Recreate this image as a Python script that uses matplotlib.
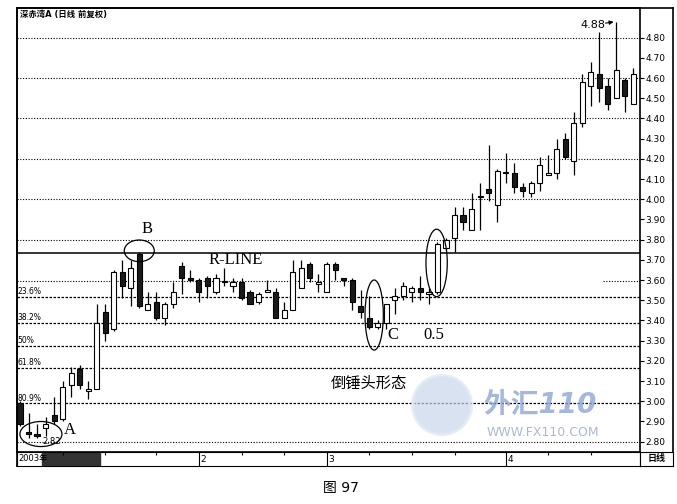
import numpy as np
import matplotlib.pyplot as plt
from matplotlib.patches import Ellipse, Rectangle

plt.rcParams['font.family'] = ['DejaVu Sans', 'Noto Sans CJK SC']

# daily candles (index 0 = first bar on the left)
opens = [2.99, 2.85, 2.84, 2.87, 2.93, 2.91, 3.08, 3.16, 3.05, 3.06,
         3.44, 3.36, 3.64, 3.56, 3.73, 3.45, 3.49, 3.41, 3.48, 3.67,
         3.61, 3.60, 3.61, 3.54, 3.59, 3.57, 3.59, 3.54, 3.49, 3.54,
         3.54, 3.41, 3.45, 3.56, 3.68, 3.58, 3.54, 3.68, 3.61, 3.60,
         3.47, 3.41, 3.37, 3.39, 3.50, 3.52, 3.54, 3.56, 3.53, 3.54,
         3.76, 3.81, 3.92, 3.85, 4.01, 4.05, 3.97, 4.13, 4.13, 4.06,
         4.03, 4.08, 4.12, 4.13, 4.30, 4.19, 4.38, 4.56, 4.62, 4.56,
         4.50, 4.59, 4.47]
highs = [3.00, 2.94, 2.89, 2.92, 3.02, 3.10, 3.17, 3.18, 3.10, 3.48,
         3.48, 3.65, 3.70, 3.70, 3.74, 3.54, 3.54, 3.49, 3.59, 3.69,
         3.65, 3.61, 3.62, 3.63, 3.66, 3.61, 3.61, 3.55, 3.54, 3.60,
         3.56, 3.49, 3.70, 3.70, 3.69, 3.63, 3.69, 3.69, 3.61, 3.61,
         3.55, 3.52, 3.40, 3.48, 3.56, 3.59, 3.57, 3.62, 3.56, 3.79,
         3.81, 3.96, 3.96, 4.03, 4.08, 4.27, 4.15, 4.23, 4.18, 4.08,
         4.09, 4.21, 4.22, 4.30, 4.33, 4.43, 4.62, 4.68, 4.83, 4.60,
         4.88, 4.60, 4.65]
lows = [2.88, 2.82, 2.82, 2.83, 2.89, 2.90, 3.02, 3.06, 3.01, 3.06,
        3.30, 3.35, 3.51, 3.47, 3.46, 3.45, 3.40, 3.38, 3.46, 3.53,
        3.59, 3.49, 3.51, 3.53, 3.57, 3.54, 3.50, 3.48, 3.48, 3.54,
        3.41, 3.41, 3.45, 3.56, 3.59, 3.54, 3.54, 3.60, 3.57, 3.45,
        3.41, 3.36, 3.36, 3.36, 3.43, 3.50, 3.49, 3.50, 3.48, 3.53,
        3.75, 3.74, 3.85, 3.85, 3.85, 3.99, 3.89, 4.08, 4.03, 4.01,
        4.01, 4.04, 4.12, 4.10, 4.20, 4.12, 4.36, 4.46, 4.48, 4.44,
        4.50, 4.43, 4.47]
closes = [2.89, 2.84, 2.83, 2.89, 2.90, 3.07, 3.14, 3.08, 3.06, 3.39,
          3.34, 3.64, 3.57, 3.66, 3.47, 3.48, 3.41, 3.48, 3.54, 3.61,
          3.60, 3.54, 3.57, 3.61, 3.59, 3.59, 3.51, 3.48, 3.53, 3.55,
          3.41, 3.45, 3.64, 3.66, 3.61, 3.59, 3.68, 3.65, 3.60, 3.49,
          3.44, 3.37, 3.39, 3.48, 3.52, 3.57, 3.56, 3.54, 3.54, 3.78,
          3.80, 3.92, 3.89, 3.95, 4.01, 4.03, 4.14, 4.13, 4.06, 4.04,
          4.08, 4.17, 4.13, 4.25, 4.21, 4.38, 4.58, 4.63, 4.55, 4.47,
          4.64, 4.51, 4.62]

price_ticks = [2.8, 2.9, 3.0, 3.1, 3.2, 3.3, 3.4, 3.5, 3.6, 3.7, 3.8,
               3.9, 4.0, 4.1, 4.2, 4.3, 4.4, 4.5, 4.6, 4.7, 4.8]
grid_levels = [4.80, 4.60, 4.40, 4.20, 4.00, 3.80, 2.80]
fib_levels = [3.518, 3.389, 3.274, 3.166, 2.99]
fib_labels = ['23.6%', '38.2%', '50%', '61.8%', '80.9%']
r_line = 3.736

month_starts = [21, 36, 57]
month_labels = ['2', '3', '4']
week_ticks = [5, 10, 16, 26, 31, 41, 46, 51, 62, 67]

W, H = 677, 504


def fx(px):
    return px / W


def fy(py):
    return 1 - py / H


fig = plt.figure(figsize=(W / 100, H / 100), dpi=100)

# outer frame incl. price strip
frame = fig.add_axes([fx(17), fy(466), fx(673) - fx(17), fy(8) - fy(466)])
frame.set_xticks([])
frame.set_yticks([])
for s in frame.spines.values():
    s.set_linewidth(1.2)

ax = fig.add_axes([fx(17), fy(452), fx(640) - fx(17), fy(8) - fy(452)])
ax.set_facecolor('none')
ax.set_xlim(-0.35, 72.77)
ax.set_ylim(2.749, 4.947)
for s in ax.spines.values():
    s.set_linewidth(1.2)

# grid / fibonacci / resistance lines
for lv in grid_levels:
    ax.axhline(lv, color='black', lw=0.8, ls=(0, (1, 1.5)), zorder=1)
ax.hlines(3.597, -0.35, 39.3, color='black', lw=0.8, ls=(0, (1, 1.5)), zorder=1)
ax.hlines(3.597, 68.4, 72.77, color='black', lw=0.8, ls=(0, (1, 1.5)), zorder=1)
for lv, lab in zip(fib_levels, fib_labels):
    ax.axhline(lv, color='black', lw=0.9, ls=(0, (2, 1.2)), zorder=1)
    ax.text(-0.3, lv + 0.004, lab, fontsize=5.5, va='bottom', ha='left')
ax.axhline(r_line, color='black', lw=1.1, zorder=1)

# candles
x = np.arange(len(opens))
ax.vlines(x, lows, highs, color='black', lw=0.9, zorder=2)
for i in range(len(opens)):
    o, c = opens[i], closes[i]
    fill = 'white' if c >= o else '#1a1a1a'
    h = max(abs(c - o), 0.004)
    ax.bar(i, h, bottom=min(o, c), width=0.6, color=fill,
           edgecolor='black', linewidth=0.8, zorder=3)

# annotations
serif = 'Liberation Serif'
ax.add_patch(Ellipse((2.46, 2.838), 4.93, 0.124, fill=False, lw=0.9, zorder=4))
ax.add_patch(Ellipse((14.0, 3.745), 3.52, 0.107, fill=False, lw=0.9, zorder=4))
ax.add_patch(Ellipse((41.57, 3.427), 2.15, 0.347, fill=False, lw=0.9, zorder=4))
ax.add_patch(Ellipse((48.9, 3.685), 2.5, 0.334, fill=False, lw=0.9, zorder=4))
ax.text(14.87, 3.852, 'B', family=serif, fontsize=12, ha='center', va='center')
ax.text(25.3, 3.70, 'R-LINE', family=serif, fontsize=12, ha='center', va='center')
ax.text(5.87, 2.858, 'A', family=serif, fontsize=12, ha='center', va='center')
ax.text(3.76, 2.80, '2.82', fontsize=6, ha='center', va='center')
ax.text(43.8, 3.328, 'C', family=serif, fontsize=12, ha='center', va='center')
ax.text(48.55, 3.328, '0.5', family=serif, fontsize=12, ha='center', va='center')
ax.text(40.96, 3.09, '倒锤头形态', fontsize=11, ha='center', va='center')
ax.text(67.25, 4.863, '4.88', fontsize=8, ha='center', va='center')
ax.annotate('', xy=(70.0, 4.88), xytext=(68.4, 4.87),
            arrowprops=dict(arrowstyle='-|>', lw=0.8, color='black',
                            mutation_scale=6))
ax.text(0.05, 4.915, '深赤湾A (日线 前复权)', fontsize=6, fontweight='bold',
        ha='left', va='center')

# price axis on the right
ax.yaxis.tick_right()
ax.set_yticks(price_ticks)
ax.set_yticklabels(['%.2f' % p for p in price_ticks])
ax.tick_params(axis='y', direction='out', length=3, labelsize=6.5, pad=1)
ax.set_xticks([])

# date bar
dax = fig.add_axes([fx(17), fy(466), fx(640) - fx(17), fy(452) - fy(466)])
dax.set_xlim(ax.get_xlim())
dax.set_ylim(0, 1)
dax.set_yticks([])
dax.set_xticks(week_ticks)
dax.tick_params(axis='x', direction='in', length=2.5, top=True, bottom=False,
                labelbottom=False)
dax.text(-0.2, 0.5, '2003年', fontsize=6, va='center', ha='left')
dax.add_patch(Rectangle((2.6, 0.1), 6.8, 0.8, color='#333333'))
for m, lab in zip(month_starts, month_labels):
    dax.axvline(m, color='black', lw=0.8)
    dax.text(m + 0.2, 0.45, lab, fontsize=6.5, va='center', ha='left')

lax = fig.add_axes([fx(640), fy(466), fx(673) - fx(640), fy(452) - fy(466)])
lax.set_xticks([])
lax.set_yticks([])
lax.text(0.5, 0.5, '日线', fontsize=6.5, fontweight='bold', ha='center', va='center')

# watermark
fig.patches.append(Ellipse((fx(442), fy(405)), 58 / W, 58 / H,
                           transform=fig.transFigure, facecolor='#c9d6ea',
                           edgecolor='#dde6f2', lw=3, alpha=0.7))
fig.text(fx(540), fy(405), '外汇110', fontsize=20, fontweight='bold',
         style='italic', color='#8ea7d6', alpha=0.8, ha='center', va='center')
fig.text(fx(543), fy(433), 'WWW.FX110.COM', fontsize=9, color='#aab8d4',
         ha='center', va='center')

fig.text(fx(341), fy(488), '图 97', fontsize=10, ha='center', va='center')

plt.savefig('out.png', dpi=100)
